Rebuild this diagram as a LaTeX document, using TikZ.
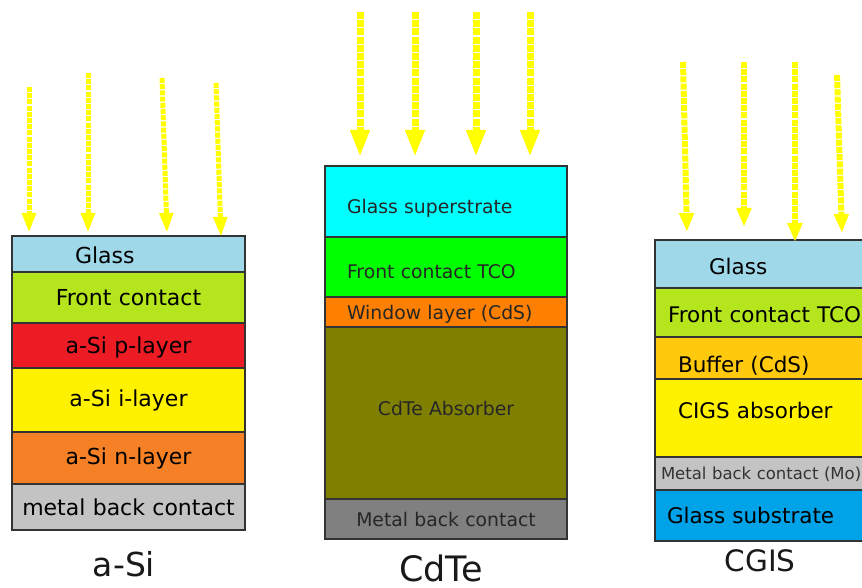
\documentclass[tikz,border=0pt]{standalone}
\usepackage{fontspec}
\setmainfont{DejaVu Sans}
\usetikzlibrary{arrows.meta,positioning}

\definecolor{glassblue}{HTML}{9FD9E9}
\definecolor{frontgreen}{HTML}{B5E61D}
\definecolor{pred}{HTML}{ED1C24}
\definecolor{iyellow}{HTML}{FFF200}
\definecolor{norange}{HTML}{F58025}
\definecolor{metalgrey}{HTML}{C3C3C3}
\definecolor{cyanglass}{HTML}{00FFFF}
\definecolor{tcogreen}{HTML}{00FF00}
\definecolor{olivecdte}{HTML}{808000}
\definecolor{windoworange}{HTML}{FF8000}
\definecolor{backgrey}{HTML}{808080}
\definecolor{buffergold}{HTML}{FFC90E}
\definecolor{substrateblue}{HTML}{00A2E8}
\definecolor{sunyellow}{HTML}{FFFF00}

\begin{document}
\begin{tikzpicture}[x=1pt, y=-1pt,
  layer/.style={draw=black!80, line width=1.3pt, outer sep=0pt, inner ysep=0pt},
  asi/.style={layer, text width=221pt, inner xsep=6pt, align=center, font=\fontsize{22}{24}\selectfont},
  cdte/.style={layer, text width=198pt, inner xsep=22pt, align=left, text=black!85, font=\fontsize{18.8}{20}\selectfont},
  cgis/.style={layer, align=left, font=\fontsize{21.5}{23}\selectfont},
  title/.style={inner sep=0pt, anchor=base, text=black!90},
  ray/.style={draw=sunyellow, line width=#1, dash pattern=on #1 off 1.2pt}]
\useasboundingbox (0,0) rectangle (862,588);
\clip (0,0) rectangle (862,588);

% a-Si stack
\node[asi, fill=glassblue, minimum height=36pt, anchor=north west, align=left, inner xsep=63pt, text width=107pt, text height=20pt] (asiglass) at (12,236) {Glass};
\node[asi, fill=frontgreen, minimum height=51pt, below=0pt of asiglass] (asifront) {Front contact};
\node[asi, fill=pred, minimum height=45pt, below=0pt of asifront, text height=21pt] (asip) {a-Si p-layer};
\node[asi, fill=iyellow, minimum height=64pt, below=0pt of asip] (asii) {a-Si i-layer};
\node[asi, fill=norange, minimum height=52pt, below=0pt of asii] (asin) {a-Si n-layer};
\node[asi, fill=metalgrey, minimum height=46pt, below=0pt of asin] (asimetal) {metal back contact};
\node[title, font=\fontsize{33}{35}\selectfont] (asititle) at (124,576) {a-Si};

% CdTe stack
\node[cdte, fill=cyanglass, minimum height=71pt, anchor=north west, text height=27pt] (cdteglass) at (325,166) {Glass superstrate};
\node[cdte, fill=tcogreen, minimum height=60pt, below=0pt of cdteglass, text height=24pt] (cdtefront) {Front contact TCO};
\node[cdte, fill=windoworange, minimum height=30pt, below=0pt of cdtefront, text height=19pt] (cdtewindow) {Window layer (CdS)};
\node[cdte, fill=olivecdte, minimum height=172pt, below=0pt of cdtewindow, align=center, text depth=10pt] (cdteabs) {CdTe Absorber};
\node[cdte, fill=backgrey, minimum height=40pt, below=0pt of cdteabs, align=center] (cdtemetal) {Metal back contact};
\node[title, font=\fontsize{35}{37}\selectfont] (cdtetitle) at (441,581) {CdTe};

% CGIS stack
\node[cgis, fill=glassblue, minimum height=48pt, anchor=north west, inner xsep=54pt, text width=122pt, text height=21pt] (cgisglass) at (655,240) {Glass};
\node[cgis, fill=frontgreen, minimum height=49pt, below=0pt of cgisglass, inner xsep=13pt, text width=204pt, text height=21pt] (cgisfront) {Front contact TCO};
\node[cgis, fill=buffergold, minimum height=42pt, below=0pt of cgisfront, inner xsep=23pt, text width=184pt, text height=32pt] (cgisbuffer) {Buffer (CdS)};
\node[cgis, fill=iyellow, minimum height=78pt, below=0pt of cgisbuffer, inner xsep=23pt, text width=184pt, text depth=16pt] (cgisabs) {CIGS absorber};
\node[cgis, fill=metalgrey, minimum height=33pt, below=0pt of cgisabs, inner xsep=6pt, text width=218pt, text=black!80, text height=15pt, font=\fontsize{16.5}{18}\selectfont] (cgismetal) {Metal back contact (Mo)};
\node[cgis, fill=substrateblue, minimum height=51pt, below=0pt of cgismetal, inner xsep=12pt, text width=206pt] (cgissubstrate) {Glass substrate};
\node[title, font=\fontsize{29.5}{31}\selectfont] (cgistitle) at (760,571) {CGIS};

% sun rays
\coordinate (asisrc1) at (29,87); \coordinate (asitip1) at (29,233);
\coordinate (asisrc2) at (88,73); \coordinate (asitip2) at (88,233);
\coordinate (asisrc3) at (162,78); \coordinate (asitip3) at (167,233);
\coordinate (asisrc4) at (216,83); \coordinate (asitip4) at (221,237);
\draw[ray=5pt, -{Triangle[width=13pt,length=20pt]}] (asisrc1) -- (asitip1); \draw[ray=5pt, -{Triangle[width=13pt,length=20pt]}] (asisrc2) -- (asitip2); \draw[ray=5pt, -{Triangle[width=13pt,length=20pt]}] (asisrc3) -- (asitip3); \draw[ray=5pt, -{Triangle[width=13pt,length=20pt]}] (asisrc4) -- (asitip4);
\coordinate (cdtesrc1) at (360,12); \coordinate (cdtetip1) at (360,157);
\coordinate (cdtesrc2) at (415,12); \coordinate (cdtetip2) at (415,157);
\coordinate (cdtesrc3) at (476,12); \coordinate (cdtetip3) at (476,157);
\coordinate (cdtesrc4) at (530,12); \coordinate (cdtetip4) at (530,157);
\draw[ray=7pt, -{Triangle[width=18pt,length=27pt]}] (cdtesrc1) -- (cdtetip1); \draw[ray=7pt, -{Triangle[width=18pt,length=27pt]}] (cdtesrc2) -- (cdtetip2); \draw[ray=7pt, -{Triangle[width=18pt,length=27pt]}] (cdtesrc3) -- (cdtetip3); \draw[ray=7pt, -{Triangle[width=18pt,length=27pt]}] (cdtesrc4) -- (cdtetip4);
\coordinate (cgissrc1) at (683,62); \coordinate (cgistip1) at (687,232);
\coordinate (cgissrc2) at (744,62); \coordinate (cgistip2) at (744,227);
\coordinate (cgissrc3) at (795,62); \coordinate (cgistip3) at (795,242);
\coordinate (cgissrc4) at (837,75); \coordinate (cgistip4) at (842,233);
\draw[ray=6pt, -{Triangle[width=14pt,length=19pt]}] (cgissrc1) -- (cgistip1); \draw[ray=6pt, -{Triangle[width=14pt,length=19pt]}] (cgissrc2) -- (cgistip2); \draw[ray=6pt, -{Triangle[width=14pt,length=19pt]}] (cgissrc3) -- (cgistip3); \draw[ray=6pt, -{Triangle[width=14pt,length=19pt]}] (cgissrc4) -- (cgistip4);
\end{tikzpicture}
\end{document}
